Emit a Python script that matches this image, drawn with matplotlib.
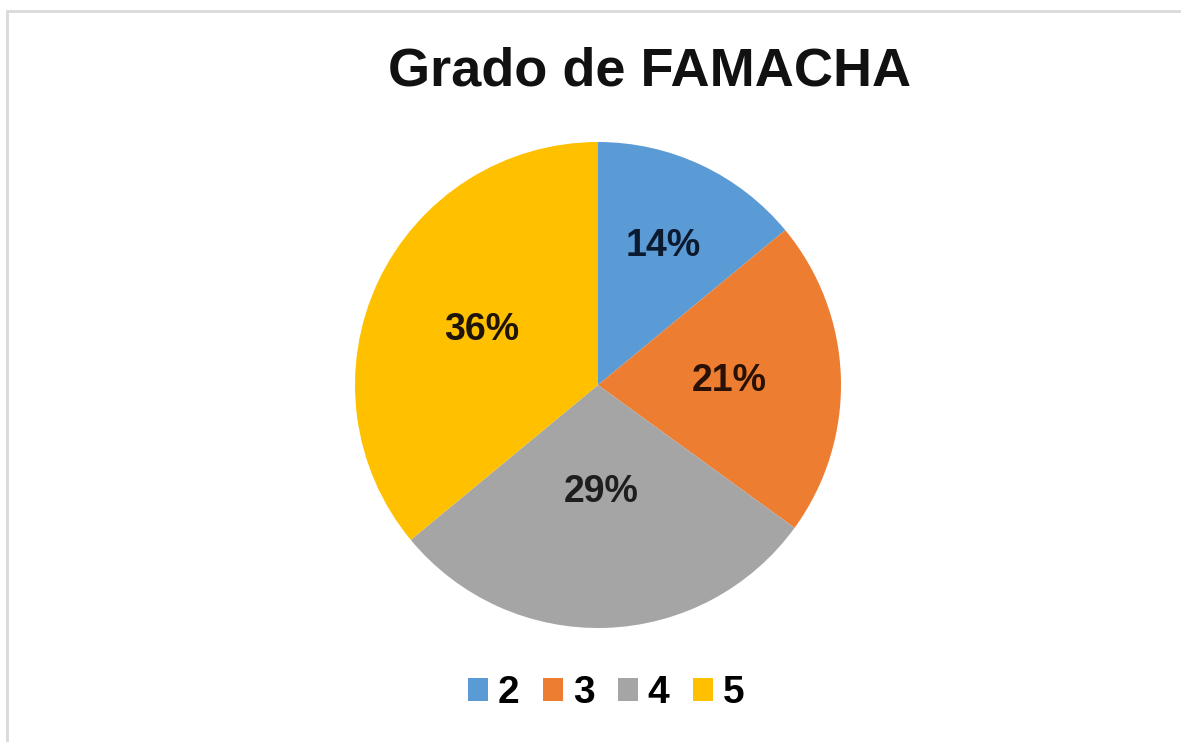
import numpy as np
import matplotlib.pyplot as plt
from matplotlib.patches import Rectangle

plt.rcParams['font.family'] = ['Liberation Sans', 'DejaVu Sans']

title = "Grado de FAMACHA"
grados = ["2", "3", "4", "5"]
porcentajes = [14, 21, 29, 36]
colores = ["#5B9BD5", "#ED7D31", "#A5A5A5", "#FFC000"]
label_dist = [0.63, 0.54, 0.44, 0.53]
label_colors = ["#0c1a30", "#2a1106", "#1e1e1e", "#1e1408"]

W, H = 1181, 742
fig = plt.figure(figsize=(W / 100, H / 100), dpi=100)
fig.patch.set_facecolor("white")

# light grey chart border (cut by image on right/bottom)
fig.add_artist(Rectangle((7 / W, -0.05), 1.1, 1 - 11 / H + 0.05,
                         transform=fig.transFigure, fill=False,
                         edgecolor="#d9d9d9", linewidth=2))

cx, cy, r = 598, 385, 243
ax = fig.add_axes([(cx - r) / W, 1 - (cy + r) / H, 2 * r / W, 2 * r / H])
wedges, texts, autotexts = ax.pie(porcentajes, colors=colores, startangle=90,
                                  counterclock=False, radius=1,
                                  autopct=lambda p: "%d%%" % round(p),
                                  wedgeprops=dict(linewidth=0),
                                  textprops=dict(fontsize=27, fontweight="bold"))
ax.set_xlim(-1, 1)
ax.set_ylim(-1, 1)

for w, t, d, c in zip(wedges, autotexts, label_dist, label_colors):
    ang = np.deg2rad((w.theta1 + w.theta2) / 2)
    t.set_position((d * np.cos(ang), d * np.sin(ang)))
    t.set_color(c)

fig.text(650 / W, 1 - 71 / H, title, ha="center", va="center",
         fontsize=39, fontweight="bold", color="#111111")

fig.legend(wedges, grados, loc="center", bbox_to_anchor=(606 / W, 1 - 693 / H),
           ncol=4, frameon=False, prop=dict(size=28, weight="bold"),
           handlelength=0.52, handleheight=0.52, handletextpad=0.25,
           columnspacing=0.6)

fig.savefig("out.png", dpi=100)
